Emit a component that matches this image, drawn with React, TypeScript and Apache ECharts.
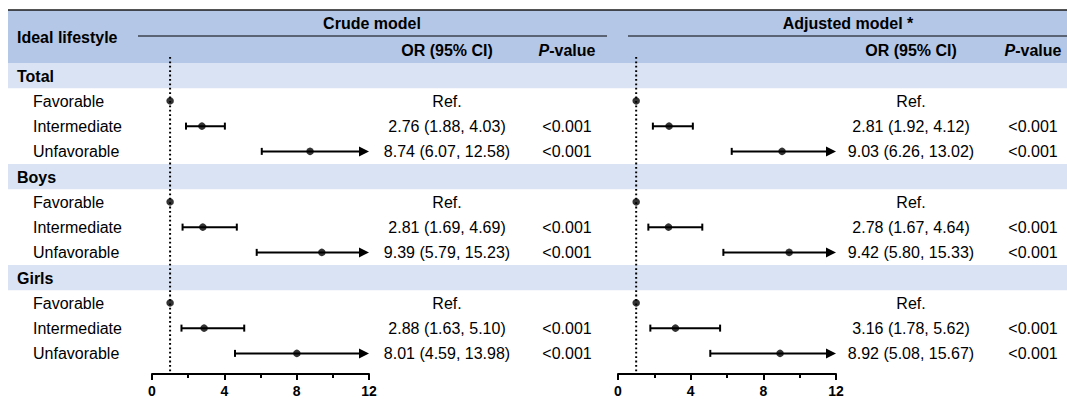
import React, { useEffect, useRef } from "react";
import * as echarts from "echarts";

// ---------- data ----------
const rowLabels = [
  "Total", "Favorable", "Intermediate", "Unfavorable",
  "Boys", "Favorable", "Intermediate", "Unfavorable",
  "Girls", "Favorable", "Intermediate", "Unfavorable",
];
const isGroupRow = [true, false, false, false, true, false, false, false, true, false, false, false];

const crudeOR = [null, 1, 2.76, 8.74, null, 1, 2.81, 9.39, null, 1, 2.88, 8.01];
const crudeLower = [null, null, 1.88, 6.07, null, null, 1.69, 5.79, null, null, 1.63, 4.59];
const crudeUpper = [null, null, 4.03, 12.58, null, null, 4.69, 15.23, null, null, 5.1, 13.98];
const crudeP = ["", "", "<0.001", "<0.001", "", "", "<0.001", "<0.001", "", "", "<0.001", "<0.001"];

const adjOR = [null, 1, 2.81, 9.03, null, 1, 2.78, 9.42, null, 1, 3.16, 8.92];
const adjLower = [null, null, 1.92, 6.26, null, null, 1.67, 5.8, null, null, 1.78, 5.08];
const adjUpper = [null, null, 4.12, 13.02, null, null, 4.64, 15.33, null, null, 5.62, 15.67];
const adjP = ["", "", "<0.001", "<0.001", "", "", "<0.001", "<0.001", "", "", "<0.001", "<0.001"];

const modelTitles = ["Crude model", "Adjusted model *"];
const AXIS_MIN = 0;
const AXIS_MAX = 12;
const AXIS_INTERVAL = 4;
const REF_VALUE = 1;

// ---------- layout ----------
const W = 1067;
const H = 405;
const FONT = '"Liberation Sans", Arial, Helvetica, sans-serif';
const TABLE_LEFT = 8;
const HEADER_TOP = 10;
const ROWS_TOP = 63;
const ROW_H = 25.25;
const ROWS_H = ROW_H * rowLabels.length;
const HEADER_COLOR = "#b4c7e7";
const GROUP_COLOR = "#dae3f3";
const FS = 16;

const panels = [
  { left: 152, width: 217, orX: 447, pX: 567, lineX1: 138, lineX2: 607, titleX: 372 },
  { left: 618, width: 218, orX: 911, pX: 1033, lineX1: 628, lineX2: 1067, titleX: 848 },
];

const models = [
  { or: crudeOR, lo: crudeLower, hi: crudeUpper, p: crudeP },
  { or: adjOR, lo: adjLower, hi: adjUpper, p: adjP },
];

function orText(or: number | null, lo: number | null, hi: number | null): string {
  if (or == null) return "";
  if (lo == null || hi == null) return "Ref.";
  return `${or.toFixed(2)} (${lo.toFixed(2)}, ${hi.toFixed(2)})`;
}

function txt(x: number, y: number, text: string, opts: any = {}) {
  return {
    type: "text",
    x,
    y,
    style: {
      text,
      fontFamily: FONT,
      fontSize: FS,
      fontWeight: "normal",
      fill: "#000",
      align: "left",
      verticalAlign: "middle",
      ...opts,
    },
  };
}

function buildOption() {
  const rowIdx = rowLabels.map((_, i) => i);

  const grids: any[] = [
    { left: 0, top: ROWS_TOP, width: W, height: ROWS_H },
    ...panels.map((p) => ({ left: p.left, top: ROWS_TOP, width: p.width, height: ROWS_H })),
  ];

  const xAxes: any[] = [
    { type: "value", gridIndex: 0, min: 0, max: W, show: false },
    ...panels.map((_, k) => ({
      type: "value",
      gridIndex: k + 1,
      min: AXIS_MIN,
      max: AXIS_MAX,
      interval: AXIS_INTERVAL,
      offset: 8,
      axisLine: { show: true, onZero: false, lineStyle: { color: "#000", width: 2 } },
      axisTick: { show: true, length: 6, lineStyle: { color: "#000", width: 2 } },
      minorTick: { show: true, splitNumber: 2, length: 4, lineStyle: { color: "#000", width: 2 } },
      splitLine: { show: false },
      minorSplitLine: { show: false },
      axisLabel: {
        color: "#000",
        fontFamily: FONT,
        fontWeight: "bold",
        fontSize: 14,
        margin: 10,
      },
    })),
  ];

  const yAxes: any[] = [0, 1, 2].map((g) => ({
    type: "category",
    gridIndex: g,
    data: rowIdx,
    inverse: true,
    show: false,
  }));

  const series: any[] = [];

  // group bands
  series.push({
    type: "custom",
    xAxisIndex: 0,
    yAxisIndex: 0,
    z: 1,
    silent: true,
    data: rowIdx.filter((i) => isGroupRow[i]).map((i) => [0, i]),
    encode: { x: 0, y: 1 },
    renderItem: (params: any, api: any) => {
      const c = api.coord([0, api.value(1)]);
      const s = api.size([0, 1]);
      return {
        type: "rect",
        shape: { x: TABLE_LEFT, y: c[1] - s[1] / 2, width: W - TABLE_LEFT, height: s[1] },
        style: { fill: GROUP_COLOR },
      };
    },
  });

  // table texts
  series.push({
    type: "custom",
    xAxisIndex: 0,
    yAxisIndex: 0,
    z: 5,
    silent: true,
    data: rowIdx.map((i) => [0, i]),
    encode: { x: 0, y: 1 },
    renderItem: (params: any, api: any) => {
      const i = params.dataIndex;
      const y = api.coord([0, i])[1] + 0.5;
      const children: any[] = [];
      if (isGroupRow[i]) {
        children.push(txt(17, y + 0.5, rowLabels[i], { fontWeight: "bold" }));
      } else {
        children.push(txt(33, y, rowLabels[i]));
      }
      models.forEach((m, k) => {
        const t = orText(m.or[i], m.lo[i], m.hi[i]);
        if (t) children.push(txt(panels[k].orX, y, t, { align: "center" }));
        if (m.p[i]) children.push(txt(panels[k].pX, y, m.p[i], { align: "center" }));
      });
      return { type: "group", children };
    },
  });

  models.forEach((m, k) => {
    const axis = k + 1;
    // reference line
    series.push({
      type: "custom",
      xAxisIndex: axis,
      yAxisIndex: axis,
      z: 3,
      silent: true,
      clip: false,
      data: [[REF_VALUE, 0]],
      encode: { x: 0, y: 1 },
      renderItem: (params: any, api: any) => {
        const x = api.coord([api.value(0), 0])[0];
        const cs = params.coordSys;
        return {
          type: "line",
          shape: { x1: x, y1: cs.y - 6, x2: x, y2: cs.y + cs.height + 6 },
          style: { stroke: "#000", lineWidth: 2, lineDash: [1.8, 2.6] },
        };
      },
    });
    // CI lines
    series.push({
      type: "custom",
      xAxisIndex: axis,
      yAxisIndex: axis,
      z: 4,
      silent: true,
      clip: false,
      data: rowIdx.filter((i) => m.lo[i] != null).map((i) => [i, m.lo[i], m.hi[i]]),
      encode: { x: [1, 2], y: 0 },
      renderItem: (params: any, api: any) => {
        const row = api.value(0);
        const lo = api.value(1);
        const hi = api.value(2);
        const clipped = hi > AXIS_MAX;
        const a = api.coord([lo, row]);
        const b = api.coord([Math.min(hi, AXIS_MAX), row]);
        const y = a[1];
        const cap = 3.5;
        const arrowL = 10;
        const arrowH = 5;
        const endX = clipped ? b[0] - arrowL + 1 : b[0];
        const st = { stroke: "#000", lineWidth: 2 };
        const children: any[] = [
          { type: "line", shape: { x1: a[0], y1: y, x2: endX, y2: y }, style: st },
          { type: "line", shape: { x1: a[0], y1: y - cap, x2: a[0], y2: y + cap }, style: st },
        ];
        if (clipped) {
          children.push({
            type: "polygon",
            shape: { points: [[b[0], y], [b[0] - arrowL, y - arrowH], [b[0] - arrowL, y + arrowH]] },
            style: { fill: "#000" },
          });
        } else {
          children.push({ type: "line", shape: { x1: b[0], y1: y - cap, x2: b[0], y2: y + cap }, style: st });
        }
        return { type: "group", children };
      },
    });
    // points
    series.push({
      type: "scatter",
      xAxisIndex: axis,
      yAxisIndex: axis,
      z: 6,
      silent: true,
      symbol: "circle",
      symbolSize: 7.5,
      itemStyle: { color: "#000" },
      data: rowIdx.filter((i) => m.or[i] != null).map((i) => [m.or[i], i]),
    });
  });

  const graphic: any[] = [
    { type: "rect", z: 0, shape: { x: TABLE_LEFT, y: HEADER_TOP, width: W - TABLE_LEFT, height: ROWS_TOP - HEADER_TOP }, style: { fill: HEADER_COLOR } },
    { type: "line", z: 1, shape: { x1: TABLE_LEFT, y1: HEADER_TOP, x2: W, y2: HEADER_TOP }, style: { stroke: "#1a1a1a", lineWidth: 1.5 } },
    txt(17, 37, "Ideal lifestyle", { fontWeight: "bold" }),
  ];
  panels.forEach((p, k) => {
    graphic.push(
      { type: "line", z: 1, shape: { x1: p.lineX1, y1: 36, x2: p.lineX2, y2: 36 }, style: { stroke: "#000", lineWidth: 1 } },
      txt(p.titleX, 23.5, modelTitles[k], { fontWeight: "bold", align: "center" }),
      txt(p.orX, 50, "OR (95% CI)", { fontWeight: "bold", align: "center" }),
      {
        type: "text",
        x: p.pX,
        y: 50,
        style: {
          text: "{i|P}{b|-value}",
          align: "center",
          verticalAlign: "middle",
          rich: {
            i: { fontFamily: FONT, fontSize: FS, fontWeight: "bold", fontStyle: "italic", fill: "#000" },
            b: { fontFamily: FONT, fontSize: FS, fontWeight: "bold", fill: "#000" },
          },
        },
      }
    );
  });

  return {
    animation: false,
    backgroundColor: "#fff",
    grid: grids,
    xAxis: xAxes,
    yAxis: yAxes,
    series,
    graphic,
  };
}

export default function App() {
  const ref = useRef<HTMLDivElement>(null);
  useEffect(() => {
    document.body.style.margin = "0";
    if (!ref.current) return;
    const chart = echarts.init(ref.current, undefined, { renderer: "svg" });
    chart.setOption(buildOption() as any);
    return () => chart.dispose();
  }, []);
  return <div ref={ref} style={{ width: W, height: H }} />;
}
